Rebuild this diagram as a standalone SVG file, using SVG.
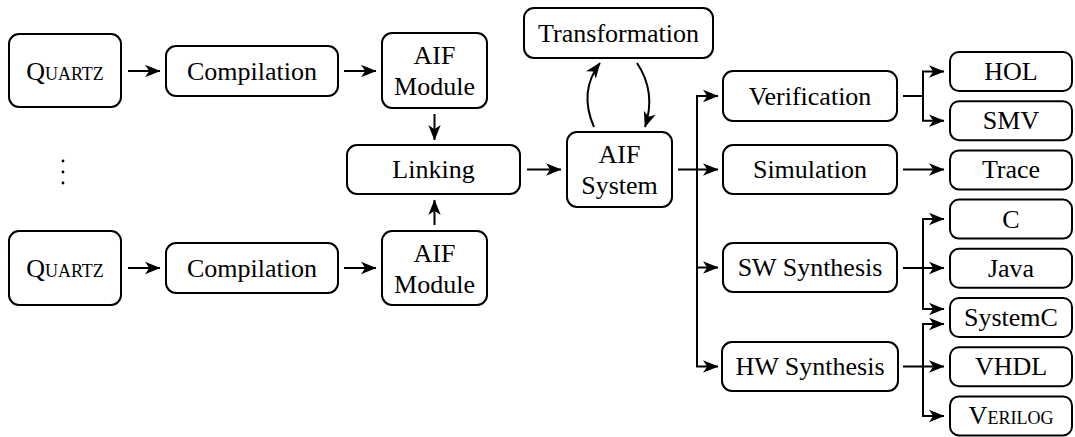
<svg xmlns="http://www.w3.org/2000/svg" width="1075" height="437" viewBox="0 0 1075 437">
  <style>
    .box { fill: #ffffff; stroke: #000000; stroke-width: 2; }
    text { font-family: "Liberation Serif", "DejaVu Serif", serif; font-size: 26px; fill: #000000; text-anchor: middle; }
    .sc { font-variant: small-caps; }
    .wire { fill: none; stroke: #000000; stroke-width: 2; }
    .arr { fill: none; stroke: #000000; stroke-width: 2; marker-end: url(#head); }
  </style>
  <defs>
    <!-- stealth-style arrowhead, tip at the path end -->
    <marker id="head" markerUnits="userSpaceOnUse" viewBox="0 0 16 14" markerWidth="16" markerHeight="14" refX="15" refY="7" orient="auto">
      <path d="M0,0.8 L15.5,7 L0,13.2 L4.2,7 Z" fill="#000000"/>
    </marker>
  </defs>

  <!-- upper input chain -->
  <g id="quartz1">
    <rect class="box" x="9" y="34" width="112" height="73" rx="10"/>
    <text class="sc" x="65" y="80">Quartz</text>
  </g>
  <g id="compile1">
    <rect class="box" x="166" y="46" width="172" height="50" rx="10"/>
    <text x="252" y="80">Compilation</text>
  </g>
  <g id="module1">
    <rect class="box" x="382" y="33" width="105" height="75" rx="10"/>
    <text x="434.5" y="64">AIF</text>
    <text x="434.5" y="95">Module</text>
  </g>

  <!-- vertical ellipsis between the two chains -->
  <g id="ellipsis">
    <circle cx="63" cy="161" r="1.4" fill="#000000"/>
    <circle cx="63" cy="172" r="1.4" fill="#000000"/>
    <circle cx="63" cy="183" r="1.4" fill="#000000"/>
  </g>

  <!-- lower input chain -->
  <g id="quartz2">
    <rect class="box" x="9" y="231" width="112" height="74" rx="10"/>
    <text class="sc" x="65" y="277">Quartz</text>
  </g>
  <g id="compile2">
    <rect class="box" x="166" y="243" width="172" height="50" rx="10"/>
    <text x="252" y="277">Compilation</text>
  </g>
  <g id="module2">
    <rect class="box" x="382" y="231" width="105" height="74" rx="10"/>
    <text x="434.5" y="262">AIF</text>
    <text x="434.5" y="293">Module</text>
  </g>

  <!-- core -->
  <g id="linking">
    <rect class="box" x="347" y="145" width="173" height="49" rx="10"/>
    <text x="433.5" y="178">Linking</text>
  </g>
  <g id="system">
    <rect class="box" x="567" y="132" width="105" height="75" rx="10"/>
    <text x="619.5" y="163">AIF</text>
    <text x="619.5" y="194">System</text>
  </g>
  <g id="transformation">
    <rect class="box" x="524" y="8" width="189" height="50" rx="10"/>
    <text x="618.5" y="42">Transformation</text>
  </g>

  <!-- back ends -->
  <g id="verification">
    <rect class="box" x="723" y="71" width="174" height="50" rx="10"/>
    <text x="810" y="105">Verification</text>
  </g>
  <g id="simulation">
    <rect class="box" x="723" y="145" width="174" height="49" rx="10"/>
    <text x="810" y="178">Simulation</text>
  </g>
  <g id="sw-synthesis">
    <rect class="box" x="723" y="243" width="174" height="49" rx="10"/>
    <text x="810" y="276">SW Synthesis</text>
  </g>
  <g id="hw-synthesis">
    <rect class="box" x="722" y="342" width="176" height="49" rx="10"/>
    <text x="810" y="375">HW Synthesis</text>
  </g>

  <!-- outputs -->
  <g id="hol">
    <rect class="box" x="950" y="52" width="122" height="39" rx="9"/>
    <text x="1011" y="80">HOL</text>
  </g>
  <g id="smv">
    <rect class="box" x="950" y="101.2" width="122" height="39" rx="9"/>
    <text x="1011" y="129.2">SMV</text>
  </g>
  <g id="trace">
    <rect class="box" x="950" y="150.4" width="122" height="39" rx="9"/>
    <text x="1011" y="178.4">Trace</text>
  </g>
  <g id="c">
    <rect class="box" x="950" y="199.6" width="122" height="39" rx="9"/>
    <text x="1011" y="227.6">C</text>
  </g>
  <g id="java">
    <rect class="box" x="950" y="248.8" width="122" height="39" rx="9"/>
    <text x="1011" y="276.8">Java</text>
  </g>
  <g id="systemc">
    <rect class="box" x="950" y="298" width="122" height="39" rx="9"/>
    <text x="1011" y="326">SystemC</text>
  </g>
  <g id="vhdl">
    <rect class="box" x="950" y="347.2" width="122" height="39" rx="9"/>
    <text x="1011" y="375.2">VHDL</text>
  </g>
  <g id="verilog">
    <rect class="box" x="950" y="396.4" width="122" height="39" rx="9"/>
    <text class="sc" x="1011" y="424.4">Verilog</text>
  </g>

  <g id="connectors">
    <!-- input chains -->
    <path class="arr" d="M128,71 H160"/>
    <path class="arr" d="M344,71 H376"/>
    <path class="arr" d="M128,268 H160"/>
    <path class="arr" d="M344,268 H376"/>
    <path class="arr" d="M434.5,114 V140"/>
    <path class="arr" d="M434.5,225 V200"/>
    <path class="arr" d="M527,169.5 H561"/>

    <!-- transformation loop -->
    <path class="arr" d="M594,127 C583,102 587,80 600,63"/>
    <path class="arr" d="M637,63 C651,84 652,106 645,127"/>

    <!-- fan-out from the system -->
    <path class="wire" d="M697,96 V366.5"/>
    <path class="arr" d="M678,169.5 H718"/>
    <path class="arr" d="M696,96 H718"/>
    <path class="arr" d="M697,267.5 H718"/>
    <path class="arr" d="M696,366.5 H718"/>

    <!-- verification outputs -->
    <path class="wire" d="M903,96 H923"/>
    <path class="arr" d="M923,96 V71.5 H944"/>
    <path class="arr" d="M923,96 V120.7 H944"/>

    <!-- simulation output -->
    <path class="arr" d="M903,169.5 H944"/>

    <!-- software synthesis outputs -->
    <path class="arr" d="M903,268 H944"/>
    <path class="arr" d="M923,268 V219 H944"/>
    <path class="arr" d="M923,268 V309 H944"/>

    <!-- hardware synthesis outputs -->
    <path class="arr" d="M903,366.5 H944"/>
    <path class="arr" d="M923,366.5 V324 H944"/>
    <path class="arr" d="M923,366.5 V416 H944"/>
  </g>
</svg>
